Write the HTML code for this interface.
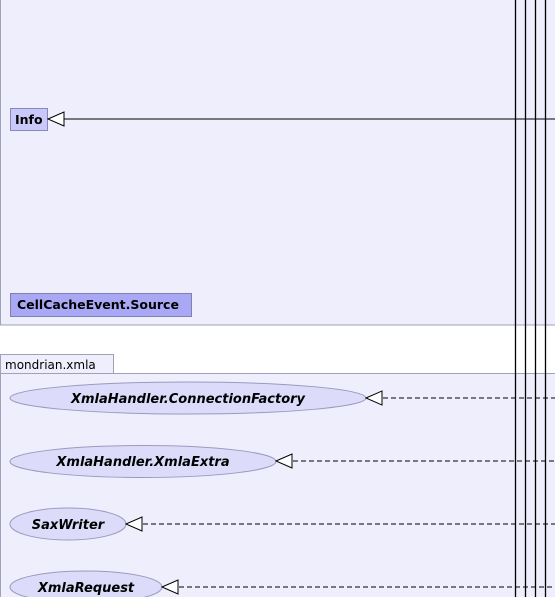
<html><body style="margin:0;width:555px;height:597px;overflow:hidden;background:#fff;font-family:'DejaVu Sans','Liberation Sans',sans-serif">
<svg width="555" height="597" xmlns="http://www.w3.org/2000/svg" style="position:absolute;left:0;top:0">
<rect x="0.5" y="-5" width="560" height="330" fill="#eeeefc" stroke="#a0a0b8"/>
<rect x="0.5" y="354.5" width="113" height="19" fill="#eeeefc" stroke="#a0a0b8"/>
<text x="5" y="369" font-size="12" fill="#000">mondrian.xmla</text>
<rect x="0.5" y="373.5" width="560" height="230" fill="#eeeefc" stroke="#a0a0b8"/>
<rect x="10.5" y="108.5" width="37" height="22" fill="#c8c8fa" stroke="#8888bb"/>
<text x="15" y="124" font-size="12.5" font-weight="bold">Info</text>
<rect x="10.5" y="293.5" width="181" height="23" fill="#a8a8f5" stroke="#8080b0"/>
<text x="17" y="309" font-size="12.5" font-weight="bold">CellCacheEvent.Source</text>
<line x1="64" y1="119" x2="555" y2="119" stroke="#000"/>
<polygon points="48,119 64,112 64,126" fill="#fff" stroke="#000"/>
<g fill="#dcdcfa" stroke="#9a9ac0">
<ellipse cx="188" cy="398" rx="178" ry="16"/>
<ellipse cx="143" cy="461.5" rx="133" ry="16"/>
<ellipse cx="68" cy="524" rx="58" ry="16"/>
<ellipse cx="86" cy="587" rx="76" ry="16"/>
</g>
<g font-size="13" font-weight="bold" font-style="italic" text-anchor="middle">
<text x="188" y="403">XmlaHandler.ConnectionFactory</text>
<text x="143" y="466">XmlaHandler.XmlaExtra</text>
<text x="68" y="529">SaxWriter</text>
<text x="86" y="592">XmlaRequest</text>
</g>
<g stroke="#000" stroke-dasharray="5,3">
<line x1="383" y1="398" x2="555" y2="398"/>
<line x1="293" y1="461" x2="555" y2="461"/>
<line x1="143" y1="524" x2="555" y2="524"/>
<line x1="179" y1="587" x2="555" y2="587"/>
</g>
<g fill="#fff" stroke="#000">
<polygon points="366,398 382,391 382,405"/>
<polygon points="276,461 292,454 292,468"/>
<polygon points="126,524 142,517 142,531"/>
<polygon points="162,587 178,580 178,594"/>
</g>
<g stroke="#000" stroke-width="1.3">
<line x1="515.5" y1="0" x2="515.5" y2="597"/>
<line x1="525.5" y1="0" x2="525.5" y2="597"/>
<line x1="535.5" y1="0" x2="535.5" y2="597"/>
<line x1="545.5" y1="0" x2="545.5" y2="597"/>
</g>
</svg>
</body></html>
